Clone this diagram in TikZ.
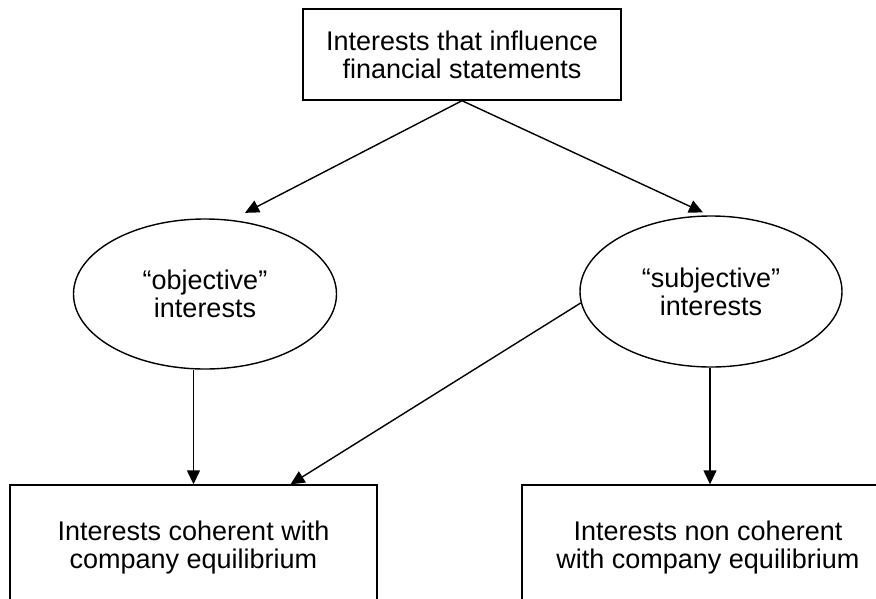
\documentclass[tikz,border=0pt]{standalone}
\usepackage{fontspec}
\setmainfont{Liberation Sans}
\usetikzlibrary{shapes.geometric,arrows.meta}

\begin{document}
\begin{tikzpicture}[x = 1pt, y = -1pt, line width = 1.4pt, >={Triangle[length = 14pt, width = 13pt]},
            every node/.style = {draw, align = center, inner sep = 0pt, font = \fontsize{27}{28}\selectfont},
            box/.style = {rectangle},
            oval/.style = {ellipse}]
            \useasboundingbox (0,0) rectangle (876,598);
            \clip (0,0) rectangle (876,598);
            \node[box, minimum width = 318pt, minimum height = 91pt] (infl) at (462,54.5) {Interests that influence\\financial statements};
            \node[oval, minimum width = 263pt, minimum height = 150pt] (objt) at (205,294) {“objective”\\interests};
            \node[oval, minimum width = 262pt, minimum height = 151pt] (subj) at (711,291.5) {“subjective”\\interests};
            \node[box, minimum width = 367pt, minimum height = 126pt] (cohr) at (193.5,548) {Interests coherent with\\company equilibrium};
            \node[box, minimum width = 372pt, minimum height = 126pt] (ncoh) at (708,548) {Interests non coherent\\with company equilibrium};
            \draw[->] (infl.south) -- ([yshift = 9pt]objt.61);
            \draw[->] (infl.south) -- ([yshift = 3pt]subj.96);
            \draw[->] (cohr.north |- objt.south) -- (cohr.north);
            \draw[->] ([xshift = 2pt]ncoh.north |- subj.south) -- ([xshift = 2pt]ncoh.north);
            \draw[->] (subj.185) -- ([xshift = 97pt]cohr.north);
         \end{tikzpicture}
\end{document}
